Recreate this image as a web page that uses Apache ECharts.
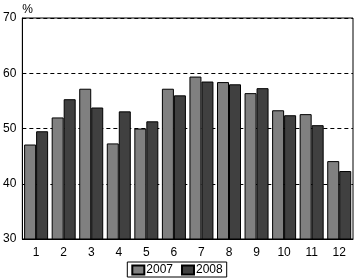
<!DOCTYPE html>
<html><head><meta charset="utf-8">
<script src="https://cdn.jsdelivr.net/npm/echarts@6/dist/echarts.min.js"></script>
<style>html,body{margin:0;padding:0;background:#fff}#c{width:354px;height:279px}</style>
</head><body><div id="c"></div>
<script>
const categories = ['1','2','3','4','5','6','7','8','9','10','11','12'];
const s2007 = [47.1, 52.0, 57.2, 47.3, 50.0, 57.2, 59.4, 58.4, 56.4, 53.3, 52.6, 44.1];
const s2008 = [49.5, 55.3, 53.8, 53.1, 51.3, 56.0, 58.5, 58.0, 57.3, 52.4, 50.6, 42.3];
const yTicks = [30, 40, 50, 60, 70];
const font = 'Liberation Sans';
const chart = echarts.init(document.getElementById('c'), null, {renderer:'canvas'});
chart.setOption({
  animation:false,
  textStyle:{fontFamily:font},
  grid:{left:22, right:1, top:18, bottom:40, show:true, borderColor:'#000', borderWidth:1},
  legend:{
    bottom:2, left:'center', data:['2007','2008'],
    icon:'rect', itemWidth:12, itemHeight:9, itemGap:8,
    borderColor:'#000', borderWidth:1, padding:[2,4,1,4],
    textStyle:{fontFamily:font, fontSize:12, color:'#000', padding:[0,0,0,-3]}
  },
  xAxis:{type:'category', data:categories,
    axisLine:{lineStyle:{color:'#000'}}, axisTick:{show:false},
    axisLabel:{color:'#000', fontSize:12, fontFamily:font, margin:8}},
  yAxis:{type:'value', min:yTicks[0], max:yTicks[yTicks.length-1], interval:10,
    name:'%', nameLocation:'end', nameGap:2,
    nameTextStyle:{color:'#000', fontSize:12, fontFamily:font, align:'left', padding:[0,0,0,0]},
    axisLine:{show:true, lineStyle:{color:'#000'}}, axisTick:{show:false},
    axisLabel:{color:'#000', fontSize:12, fontFamily:font, margin:6},
    splitLine:{show:true, lineStyle:{color:'#000', type:[4,3], width:1}}},
  series:[
    {name:'2007', type:'bar', data:s2007, barWidth:12, barGap:'0%',
      itemStyle:{color:'#808080', borderColor:'#000', borderWidth:1}},
    {name:'2008', type:'bar', data:s2008, barWidth:12,
      itemStyle:{color:'#404040', borderColor:'#000', borderWidth:1}}
  ]
});
</script></body></html>
